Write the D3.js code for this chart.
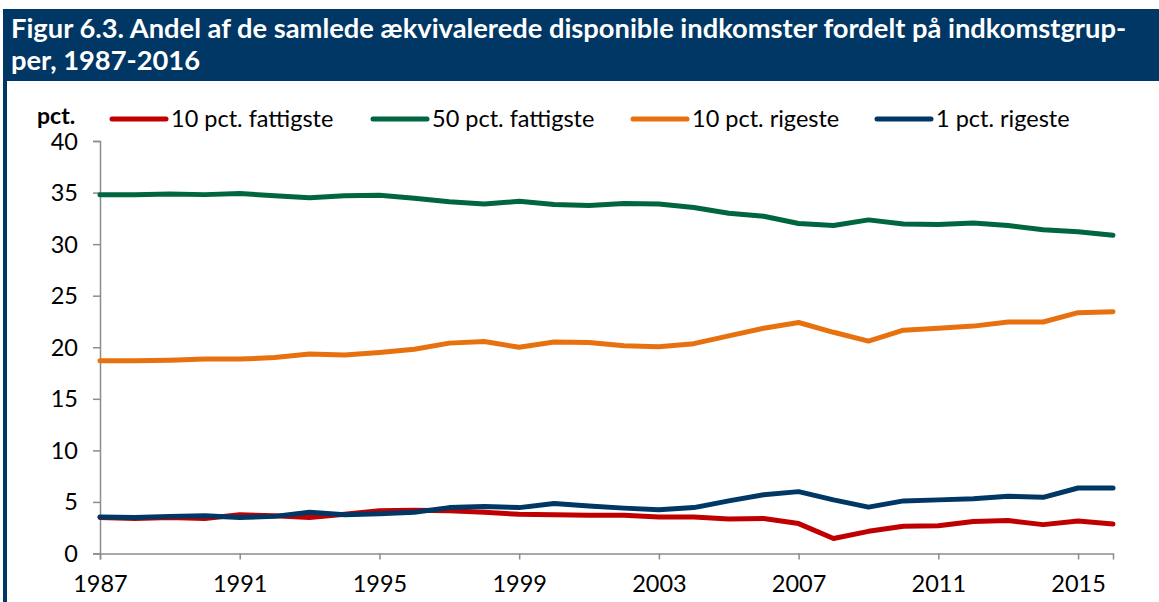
<!DOCTYPE html>
<html>
<head>
<meta charset="utf-8">
<script src="https://cdn.jsdelivr.net/npm/d3@7"></script>
<style>
	body { margin: 0; background: #fff; }
	svg { display: block; font-family: Lato, "Open Sans", sans-serif; }
</style>
</head>
<body>
<svg id="chart" width="1159" height="602"></svg>
<script>

const years = d3.range(1987, 2017)

const poorest10 = [3.5, 3.4, 3.5, 3.4, 3.75, 3.65, 3.5, 3.8, 4.15, 4.2,
	4.15, 4.0, 3.8, 3.75, 3.7, 3.7, 3.55, 3.55, 3.35, 3.4,
	2.9, 1.45, 2.15, 2.65, 2.7, 3.1, 3.2, 2.8, 3.15, 2.85]

const poorest50 = [34.8, 34.8, 34.85, 34.8, 34.9, 34.7, 34.5, 34.7, 34.75, 34.45,
	34.1, 33.9, 34.15, 33.85, 33.75, 33.95, 33.9, 33.55, 33.0, 32.7,
	32.0, 31.8, 32.35, 31.95, 31.9, 32.05, 31.8, 31.4, 31.2, 30.85]

const richest10 = [18.7, 18.7, 18.75, 18.85, 18.85, 19.0, 19.35, 19.25, 19.5, 19.8,
	20.4, 20.55, 20.0, 20.5, 20.45, 20.15, 20.05, 20.35, 21.1, 21.85,
	22.4, 21.45, 20.6, 21.65, 21.85, 22.05, 22.45, 22.45, 23.35, 23.45]

const richest1 = [3.55, 3.5, 3.6, 3.65, 3.5, 3.6, 4.0, 3.75, 3.85, 4.0,
	4.45, 4.55, 4.45, 4.85, 4.6, 4.4, 4.25, 4.45, 5.1, 5.7,
	6.0, 5.2, 4.5, 5.1, 5.2, 5.3, 5.55, 5.45, 6.35, 6.35]

const seriesNames = ["10 pct. fattigste", "50 pct. fattigste", "10 pct. rigeste", "1 pct. rigeste"]
const seriesValues = [poorest10, poorest50, richest10, richest1]
const seriesColors = ["#c00000", "#006640", "#e8710f", "#003764"]

const yTicks = [0, 5, 10, 15, 20, 25, 30, 35, 40]
const xTicks = [1987, 1991, 1995, 1999, 2003, 2007, 2011, 2015]

const titleLines = [
	"Figur 6.3. Andel af de samlede ækvivalerede disponible indkomster fordelt på indkomstgrup-",
	"per, 1987-2016"
]

const svg = d3.select("#chart")

// header band + left border
svg.append("rect")
	.attr("x", 3).attr("y", 9)
	.attr("width", 1156).attr("height", 72)
	.attr("fill", "#003764")

svg.append("rect")
	.attr("x", 3).attr("y", 9)
	.attr("width", 4).attr("height", 593)
	.attr("fill", "#003764")

svg.append("text")
	.attr("fill", "#fff")
	.attr("font-weight", "bold")
	.attr("font-size", 27.3)
	.selectAll("tspan")
	.data(titleLines)
	.join("tspan")
		.attr("x", 11)
		.attr("y", (d, i) => 38 + i * 32)
		.text(d => d)

// scales
const x = d3.scaleLinear().domain([1987, 2016]).range([100, 1113])
const y = d3.scaleLinear().domain([0, 40]).range([553.5, 141])

// axes
const yAxis = svg.append("g")
	.attr("transform", "translate(100,0)")
	.call(d3.axisLeft(y).tickValues(yTicks).tickSize(7).tickPadding(15))
const xAxis = svg.append("g")
	.attr("transform", "translate(0,553.5)")
	.call(d3.axisBottom(x).tickValues(xTicks).tickFormat(d3.format("d")).tickSize(6).tickPadding(16))

for (const ax of [yAxis, xAxis]) {
	ax.select(".domain").attr("stroke", "#8c8c8c").attr("stroke-width", 1.5)
	ax.selectAll(".tick line").attr("stroke", "#8c8c8c").attr("stroke-width", 1.5)
	ax.selectAll(".tick text")
		.attr("fill", "#000")
		.attr("font-size", 23.5)
		.attr("font-family", "Lato, sans-serif")
}
yAxis.selectAll(".tick text").attr("dy", "0.34em")
xAxis.selectAll(".tick text").attr("dy", "0.72em")

// lines
const line = d3.line()
	.x((d, i) => x(years[i]))
	.y(d => y(d))

svg.append("g")
	.selectAll("path")
	.data(seriesValues)
	.join("path")
		.attr("d", line)
		.attr("fill", "none")
		.attr("stroke", (d, i) => seriesColors[i])
		.attr("stroke-width", 5)
		.attr("stroke-linecap", "round")
		.attr("stroke-linejoin", "round")

// legend
svg.append("text")
	.attr("x", 37).attr("y", 124)
	.attr("font-weight", "bold")
	.attr("font-size", 23)
	.text("pct.")

const legendX = [112, 373, 633, 877]
const legend = svg.append("g")
	.selectAll("g")
	.data(seriesNames)
	.join("g")
		.attr("transform", (d, i) => `translate(${legendX[i]},119)`)

legend.append("line")
	.attr("x1", 0).attr("x2", 54)
	.attr("stroke", (d, i) => seriesColors[i])
	.attr("stroke-width", 5)
	.attr("stroke-linecap", "round")

legend.append("text")
	.attr("x", 59).attr("y", 8)
	.attr("font-size", 23.5)
	.text(d => d)

</script>
</body>
</html>
